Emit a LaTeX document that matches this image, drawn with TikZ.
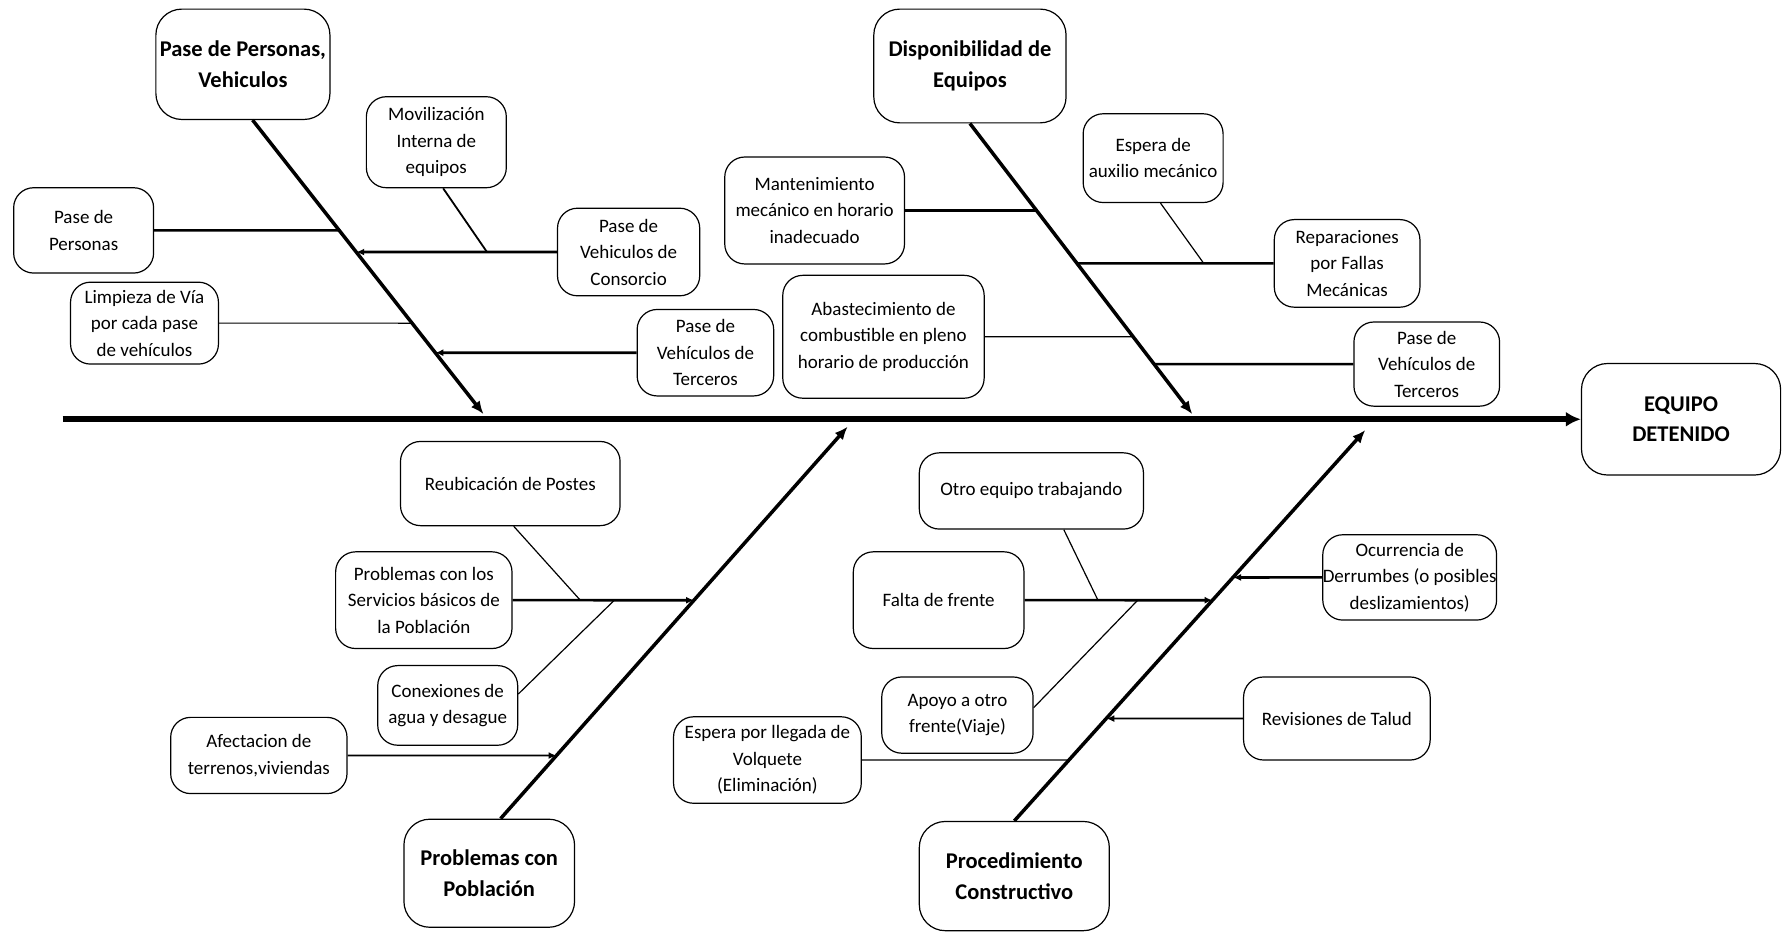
\documentclass[tikz,border=0pt]{standalone}
\usepackage{fontspec}
\setmainfont{Carlito}
\usetikzlibrary{arrows.meta,calc}

\begin{document}
\begin{tikzpicture}[x=1.1378pt,y=-1.1378pt,
  box/.style={draw, line width=1.2pt, align=center, inner sep=0pt},
  dims/.style 2 args={minimum width=#1*1.1378pt, minimum height=#2*1.1378pt},
  sub/.style={box, rounded corners=20pt, font=\fontsize{19}{26.5}\selectfont},
  head/.style={box, rounded corners=26pt, font=\fontsize{22.5}{30.5}\selectfont\bfseries},
  spine/.style={line width=6pt, -{Latex[length=15pt,width=15pt]}},
  bone/.style={line width=3.5pt, -{Latex[length=13pt,width=11pt]}},
  thk/.style={line width=2.6pt},
  med/.style={line width=1.8pt},
  thn/.style={line width=1.2pt},
  arr/.style={-{Latex[length=8pt,width=7pt]}}]

\useasboundingbox (0,0) rectangle (1568,819);

% ---- effect and main categories ----
\node[head, dims={175}{98}]  (E)  at (1477.5,368.5) {EQUIPO\\DETENIDO};
\node[head, dims={153}{97}]  (T1) at (213.5,56.5)  {Pase de Personas,\\Vehiculos};
\node[head, dims={169}{100}] (T2) at (852.5,58)    {Disponibilidad de\\Equipos};
\node[head, dims={150}{95}]  (T3) at (430,767.5)   {Problemas con\\Población};
\node[head, dims={167}{96}]  (T4) at (891.5,770)   {Procedimiento\\Constructivo};

% ---- causes: Pase de Personas, Vehiculos ----
\node[sub, dims={123}{75}]  (A1) at (73.5,202.5) {Pase de\\Personas};
\node[sub, dims={123}{80}]  (A2) at (383.5,125)  {Movilización\\Interna de\\equipos};
\node[sub, dims={125}{77}]  (A3) at (552.5,221.5){Pase de\\Vehiculos de\\Consorcio};
\node[sub, dims={130}{72}]  (A4) at (127,284)    {Limpieza de Vía\\por cada pase\\de vehículos};
\node[sub, dims={120}{76}]  (A5) at (620,310)    {Pase de\\Vehículos de\\Terceros};

% ---- causes: Disponibilidad de Equipos ----
\node[sub, dims={158}{94}]  (B1) at (716,185)    {Mantenimiento\\mecánico en horario\\inadecuado};
\node[sub, dims={123}{78}]  (B2) at (1013.5,139) {Espera de\\auxilio mecánico};
\node[sub, dims={128}{77}]  (B3) at (1184,231.5) {Reparaciones\\por Fallas\\Mecánicas};
\node[sub, dims={177}{108}] (B4) at (776.5,296)  {Abastecimiento de\\combustible en pleno\\horario de producción};
\node[sub, dims={128}{74}]  (B5) at (1254,320)   {Pase de\\Vehículos de\\Terceros};

% ---- causes: Problemas con Población ----
\node[sub, dims={193}{74}]  (C1) at (448.5,425)  {Reubicación de Postes};
\node[sub, dims={155}{85}]  (C2) at (372.5,527.5){Problemas con los\\Servicios básicos de\\la Población};
\node[sub, dims={123}{70}]  (C3) at (393.5,620)  {Conexiones de\\agua y desague};
\node[sub, dims={155}{67}]  (C4) at (227.5,664)  {Afectacion de\\terrenos,viviendas};

% ---- causes: Procedimiento Constructivo ----
\node[sub, dims={197}{67}]  (D1) at (906.5,431.5){Otro equipo trabajando};
\node[sub, dims={150}{85}]  (D2) at (825,527.5)  {Falta de frente};
\node[sub, dims={133}{67}]  (D3) at (841.5,628.5){Apoyo a otro\\frente(Viaje)};
\node[sub, dims={165}{76}]  (D4) at (674.5,668)  {Espera por llegada de\\Volquete\\(Eliminación)};
\node[sub, dims={152}{75}]  (D5) at (1239,507.5) {Ocurrencia de\\Derrumbes (o posibles\\deslizamientos)};
\node[sub, dims={164}{73}]  (D6) at (1175,631.5) {Revisiones de Talud};

% ---- spine ----
\coordinate (tail) at (55,368.5);
\draw[spine] (tail) -- (E.west);

% ---- category bones ----
\coordinate (b1s) at ($(T1.south)+(8.5,0)$);
\coordinate (b1e) at (425,364);
\coordinate (b2s) at (T2.south);
\coordinate (b2e) at (1048,364);
\coordinate (b3s) at ($(T3.north)+(10,0)$);
\coordinate (b3e) at (745,375);
\coordinate (b4s) at (T4.north);
\coordinate (b4e) at (1200,378);
\draw[bone] (b1s) -- (b1e);
\draw[bone] (b2s) -- (b2e);
\draw[bone] (b3s) -- (b3e);
\draw[bone] (b4s) -- (b4e);

% ---- branches of bone 1 ----
\draw[thk] (A1.east) -- (intersection of b1s--b1e and A1.west--A1.east);
\draw[thk,arr] (A3.west) -- (intersection of b1s--b1e and A3.west--A3.east);
\draw[thn] (A4.east) -- (intersection of b1s--b1e and A4.west--A4.east);
\draw[thk,arr] (A5.west) -- (intersection of b1s--b1e and A5.west--A5.east);
\coordinate (jA) at (428,221.5);
\draw[med] ($(A2.south)+(6,0)$) -- (jA);

% ---- branches of bone 2 ----
\draw[thk] (B1.east) -- (intersection of b2s--b2e and B1.west--B1.east);
\draw[thk] (B3.west) -- (intersection of b2s--b2e and B3.west--B3.east);
\draw[thn] (B4.east) -- (intersection of b2s--b2e and B4.west--B4.east);
\draw[thk] (B5.west) -- (intersection of b2s--b2e and B5.west--B5.east);
\coordinate (jB) at (1058,231.5);
\draw[thn] ($(B2.south)+(6.5,0)$) -- (jB);

% ---- branches of bone 3 ----
\draw[thk,arr] (C2.east) -- (intersection of b3s--b3e and C2.west--C2.east);
\draw[med,arr] (C4.east) -- (intersection of b3s--b3e and C4.west--C4.east);
\coordinate (jC1) at (510,527.5);
\coordinate (jC3) at (540,527.5);
\draw[thn] ($(C1.south)+(3,0)$) -- (jC1);
\draw[thn] ($(C3.east)+(0,-10)$) -- (jC3);

% ---- branches of bone 4 ----
\draw[thk,arr] (D2.east) -- (intersection of b4s--b4e and D2.west--D2.east);
\draw[thn] (D4.east) -- (intersection of b4s--b4e and D4.west--D4.east);
\draw[thk,arr] (D5.west) -- (intersection of b4s--b4e and D5.west--D5.east);
\draw[med,arr] (D6.west) -- (intersection of b4s--b4e and D6.west--D6.east);
\coordinate (jD1) at (965,527.5);
\coordinate (jD3) at (1000,527.5);
\draw[thn] ($(D1.south)+(28.5,0)$) -- (jD1);
\draw[thn] ($(D3.east)+(0,-6.5)$) -- (jD3);

\end{tikzpicture}
\end{document}
